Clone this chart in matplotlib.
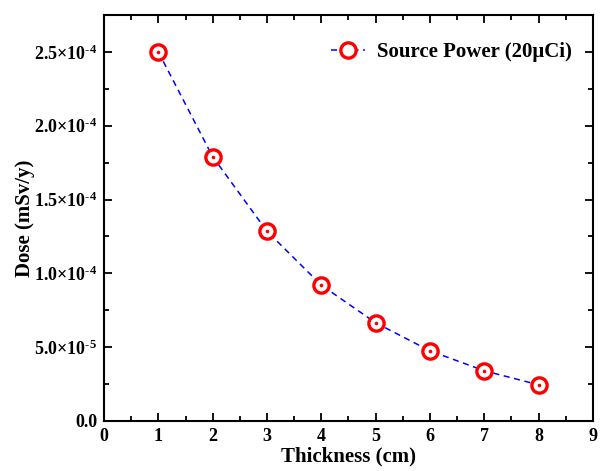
import matplotlib.pyplot as plt
from matplotlib.ticker import MultipleLocator, FuncFormatter

thickness = [1, 2, 3, 4, 5, 6, 7, 8]
dose = [2.50e-4, 1.79e-4, 1.285e-4, 0.92e-4, 0.665e-4, 0.475e-4, 0.34e-4, 0.245e-4]
series_label = "Source Power (20\u03bcCi)"

plt.rcParams['font.family'] = ['Liberation Serif', 'DejaVu Serif']
plt.rcParams['font.weight'] = 'bold'
plt.rcParams['mathtext.fontset'] = 'custom'
plt.rcParams['mathtext.rm'] = 'Liberation Serif:bold'
plt.rcParams['mathtext.bf'] = 'Liberation Serif:bold'
plt.rcParams['mathtext.it'] = 'Liberation Serif:bold'


def sci_fmt(v, pos):
    if abs(v) < 1e-12:
        return "0.0"
    exp = int(f"{v:e}".split("e")[1])
    mant = v / 10 ** exp
    return "%.1f\u00d710$^{\\text{-}%d}$" % (mant, -exp)


fig = plt.figure(figsize=(6.02, 4.71), dpi=100)
ax = fig.add_axes([0.1728, 0.1062, 0.8122, 0.862])

ax.plot(thickness, dose, color='blue', linestyle=(0, (4, 3)), linewidth=1.1,
        marker='o', markersize=11, markerfacecolor='white', markeredgecolor='red',
        markeredgewidth=2.4, label=series_label)
ax.plot(thickness, dose, linestyle='none', marker='o', markersize=1.6,
        color='red')

ax.set_xlim(0, 9)
ax.set_ylim(0, 2.75e-4)
ax.xaxis.set_major_locator(MultipleLocator(1))
ax.xaxis.set_minor_locator(MultipleLocator(0.5))
ax.yaxis.set_major_locator(MultipleLocator(0.5e-4))
ax.yaxis.set_minor_locator(MultipleLocator(0.25e-4))
ax.yaxis.set_major_formatter(FuncFormatter(sci_fmt))

ax.tick_params(which='both', direction='in', top=True, right=True, width=1.3,
               labelsize=13)
ax.tick_params(which='major', length=6, pad=5)
ax.tick_params(which='minor', length=3.5)
for s in ax.spines.values():
    s.set_linewidth(1.5)

ax.set_xlabel("Thickness (cm)", fontsize=15, fontweight='bold', labelpad=1)
ax.set_ylabel("Dose (mSv/y)", fontsize=15, fontweight='bold', labelpad=-1)

ax.legend(loc='upper right', bbox_to_anchor=(1.0, 0.985), frameon=False,
          fontsize=15, handlelength=1.6, handletextpad=0.6,
          borderaxespad=0.5, borderpad=0.5)

fig.savefig("out.png", dpi=100)
